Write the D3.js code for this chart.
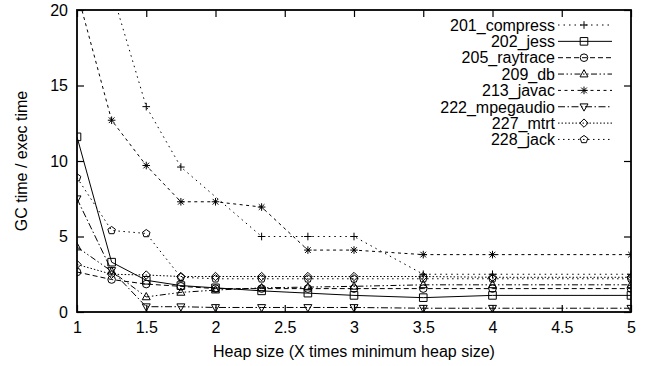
<!DOCTYPE html>
<html><head><meta charset="utf-8">
<script src="https://cdn.jsdelivr.net/npm/d3@7"></script>
<style>body{margin:0;background:#fff}text{font-family:"Liberation Sans",Arial,Helvetica,sans-serif;fill:#000}</style>
</head><body>
<svg id="c" width="649" height="366"></svg>
<script>
const heapSizes = [1, 1.25, 1.5, 1.75, 2, 2.333, 2.667, 3, 3.5, 4, 5];
const compress  = [30, 21.3, 13.6, 9.6, null, 5.0, 5.0, 5.0, 2.5, 2.5, 2.5];
const jess      = [11.6, 3.3, 2.1, 1.75, 1.6, 1.4, 1.25, 1.1, 0.95, 1.1, 1.1];
const raytrace  = [2.65, 2.15, 1.85, 1.7, 1.55, 1.55, 1.55, 1.55, 1.55, 1.55, 1.55];
const db        = [4.3, 2.7, 1.0, 1.3, 1.45, 1.6, 1.65, 1.7, 1.8, 1.8, 1.8];
const javac     = [21.2, 12.7, 9.7, 7.3, 7.3, 6.95, 4.1, 4.1, 3.8, 3.8, 3.8];
const mpegaudio = [7.5, 2.75, 0.35, 0.35, 0.3, 0.3, 0.3, 0.3, 0.25, 0.25, 0.25];
const mtrt      = [3.15, 2.5, 2.45, 2.35, 2.35, 2.35, 2.35, 2.35, 2.35, 2.3, 2.3];
const jack      = [8.9, 5.4, 5.2, 2.3, 2.2, 2.2, 2.2, 2.2, 2.2, 2.2, 2.2];
const seriesNames = ["201_compress","202_jess","205_raytrace","209_db","213_javac","222_mpegaudio","227_mtrt","228_jack"];
const seriesValues = [compress, jess, raytrace, db, javac, mpegaudio, mtrt, jack];
const dashes = ["1.5,4", null, "5,3", "6,2.5,1.5,2.5,1.5,2.5", "3,3.5", "7,2.5,1.5,2.5", "1.5,2", "1.5,3.5"];
const markers = ["plus","box","circle","tri","star","itri","diamond","pent"];
const xTicks = [1, 1.5, 2, 2.5, 3, 3.5, 4, 4.5, 5];
const yTicks = [0, 5, 10, 15, 20];
const xLabel = "Heap size (X times minimum heap size)";
const yLabel = "GC time / exec time";

const W = 649, H = 366;
const m = {l: 77, r: 631, t: 10, b: 312};
const svg = d3.select("#c");
const x = d3.scaleLinear().domain([1, 5]).range([m.l, m.r]);
const y = d3.scaleLinear().domain([0, 20]).range([m.b, m.t]);
const FS = 16;

function markerPath(type, s) {
  const r = s;
  switch (type) {
    case "plus": return `M${-r},0H${r}M0,${-r}V${r}`;
    case "box": return `M${-r},${-r}H${r}V${r}H${-r}Z`;
    case "circle": return `M${r},0A${r},${r} 0 1,1 ${-r},0A${r},${r} 0 1,1 ${r},0Z`;
    case "tri": return `M0,${-r*1.15}L${r*1.05},${r*0.75}L${-r*1.05},${r*0.75}Z`;
    case "itri": return `M0,${r*1.15}L${r*1.05},${-r*0.75}L${-r*1.05},${-r*0.75}Z`;
    case "star": { const d = r*0.75; return `M${-r},0H${r}M0,${-r}V${r}M${-d},${-d}L${d},${d}M${-d},${d}L${d},${-d}`; }
    case "diamond": return `M0,${-r*1.1}L${r*1.1},0L0,${r*1.1}L${-r*1.1},0Z`;
    case "pent": {
      const pts = d3.range(5).map(i => { const a = -Math.PI/2 + i*2*Math.PI/5; return [r*1.05*Math.cos(a), r*1.05*Math.sin(a)]; });
      return "M" + pts.map(p => p.join(",")).join("L") + "Z";
    }
  }
}

svg.append("defs").append("clipPath").attr("id","clip")
  .append("rect").attr("x", m.l).attr("y", m.t).attr("width", m.r - m.l).attr("height", m.b - m.t);

// axes (ticks inward, mirrored)
const gx = svg.append("g").attr("transform", `translate(0,${m.b})`)
  .call(d3.axisBottom(x).tickValues(xTicks).tickSize(-7).tickPadding(10).tickFormat(d3.format("~g")));
const gxt = svg.append("g").attr("transform", `translate(0,${m.t})`)
  .call(d3.axisTop(x).tickValues(xTicks).tickSize(-7).tickFormat(""));
const gy = svg.append("g").attr("transform", `translate(${m.l},0)`)
  .call(d3.axisLeft(y).tickValues(yTicks).tickSize(-7).tickPadding(9));
const gyr = svg.append("g").attr("transform", `translate(${m.r},0)`)
  .call(d3.axisRight(y).tickValues(yTicks).tickSize(-7).tickFormat(""));
[gx, gxt, gy, gyr].forEach(g => {
  g.select(".domain").remove();
  g.selectAll(".tick line").attr("stroke", "#000").attr("stroke-width", 1.2);
  g.selectAll(".tick text").attr("font-size", FS).attr("font-family", "Liberation Sans, Arial, sans-serif").attr("fill", "#000");
});
gx.selectAll(".tick text").attr("dy", "0.71em");

// data lines
const line = d3.line().x(d => x(d[0])).y(d => y(d[1]));
const plot = svg.append("g").attr("clip-path", "url(#clip)");
seriesValues.forEach((vals, i) => {
  const pts = heapSizes.map((h, j) => [h, vals[j]]).filter(p => p[1] != null);
  plot.append("path").datum(pts).attr("d", line)
    .attr("fill", "none").attr("stroke", "#000").attr("stroke-width", 1)
    .attr("stroke-dasharray", dashes[i]);
  plot.selectAll(null).data(pts).enter().append("path")
    .attr("transform", d => `translate(${x(d[0])},${y(d[1])})`)
    .attr("d", markerPath(markers[i], 3.8))
    .attr("fill", "none").attr("stroke", "#000").attr("stroke-width", 1);
});

// frame
svg.append("rect").attr("x", m.l).attr("y", m.t).attr("width", m.r - m.l).attr("height", m.b - m.t)
  .attr("fill", "none").attr("stroke", "#000").attr("stroke-width", 1.8);

// legend
const lg = svg.append("g");
const ly0 = 25, ldy = 16.35, ltx = 555, lx1 = 558, lx2 = 612, lmx = 584;
seriesNames.forEach((n, i) => {
  const yy = ly0 + i * ldy;
  lg.append("text").attr("x", ltx).attr("y", yy).attr("dy", "0.36em")
    .attr("text-anchor", "end").attr("font-size", FS).text(n);
  lg.append("line").attr("x1", lx1).attr("x2", lx2).attr("y1", yy).attr("y2", yy)
    .attr("stroke", "#000").attr("stroke-width", 1).attr("stroke-dasharray", dashes[i]);
  lg.append("path").attr("transform", `translate(${lmx},${yy})`).attr("d", markerPath(markers[i], 3.8))
    .attr("fill", "none").attr("stroke", "#000").attr("stroke-width", 1);
});

// axis titles
svg.append("text").attr("x", (m.l + m.r) / 2).attr("y", 357).attr("text-anchor", "middle")
  .attr("font-size", FS).text(xLabel);
svg.append("text").attr("transform", `translate(27,${(m.t + m.b) / 2}) rotate(-90)`)
  .attr("text-anchor", "middle").attr("font-size", FS).text(yLabel);
</script>
</body></html>
